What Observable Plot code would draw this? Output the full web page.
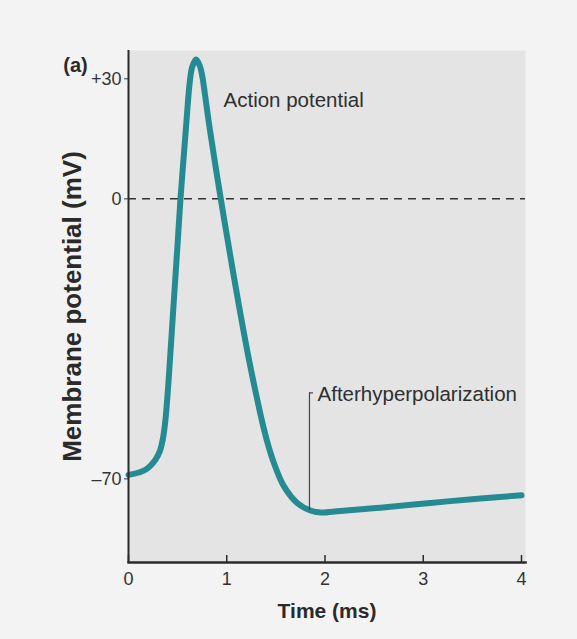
<!DOCTYPE html>
<html>
<head>
<meta charset="utf-8">
<script src="https://cdn.jsdelivr.net/npm/d3@7"></script>
<script src="https://cdn.jsdelivr.net/npm/@observablehq/plot@0.6"></script>
<style>
  html, body { margin: 0; padding: 0; background: #f3f3f3; }
  #chart svg { display: block; }
</style>
</head>
<body>
<div id="chart"></div>
<script>
// Data (time in ms, membrane potential in mV)
const time = [0, 0.173, 0.274, 0.320, 0.350, 0.375, 0.405, 0.436, 0.468, 0.499, 0.529,
  0.579, 0.606, 0.625, 0.649, 0.688, 0.726, 0.752, 0.776, 0.827, 0.939,
  1.007, 1.112, 1.215, 1.322, 1.375, 1.427, 1.478, 1.581, 1.717, 1.852, 1.954,
  2.158, 2.565, 3.074, 3.583, 4.0];
const potential = [-69.0, -67.7, -65.2, -63.0, -60.0, -55.5, -46.5, -35.0, -23.0, -11.5, 0,
  15.9, 24.5, 29.5, 33.0, 34.8, 33.2, 30.5, 26.5, 17.5, 0,
  -10.0, -25.0, -38.8, -51.5, -57.2, -62.0, -65.9, -71.8, -76.0, -77.9, -78.4,
  -78.0, -77.2, -76.0, -74.9, -74.1];

const xTicks = [0, 1, 2, 3, 4];
const yTicks = [-70, 0, 30];
const yTickLabels = ["\u201370", "0", "+30"];

const labels = ["Action potential", "Afterhyperpolarization"];
const labelTime = [0.967, 1.924];
const labelPotential = [24.6, -48.8];

const leaderTime = 1.842;
const leaderTop = -48.5;
const leaderBottom = -77.9;
const hookEnd = 1.883;

const curve = time.map((t, i) => ({t, v: potential[i]}));
const notes = labels.map((label, i) => ({label, t: labelTime[i], v: labelPotential[i]}));

const ink = "#2b2b2b";
const font = "'Liberation Sans', Arial, Helvetica, sans-serif";

const chart = Plot.plot({
  width: 577,
  height: 639,
  marginLeft: 128,
  marginRight: 52,
  marginTop: 50,
  marginBottom: 77,
  style: {background: "transparent", fontFamily: font, fontSize: "18px", color: "#333"},
  x: {type: "linear", domain: [0, 4], range: [128, 521]},
  y: {type: "linear", domain: [-70, 30], range: [478.4, 78.3]},
  marks: [
    Plot.frame({fill: "#e4e4e4", stroke: null}),
    Plot.ruleY([0], {stroke: "#333", strokeWidth: 1.5, strokeDasharray: "8,6"}),
    Plot.line(curve, {x: "t", y: "v", stroke: "#258b93", strokeWidth: 6, curve: "catmull-rom", strokeLinecap: "round"}),
    Plot.ruleX([leaderTime], {y1: leaderTop, y2: leaderBottom, stroke: "#444", strokeWidth: 1.2}),
    Plot.ruleY([leaderTop], {x1: leaderTime, x2: hookEnd, stroke: "#444", strokeWidth: 1.2}),
    Plot.text(notes, {x: "t", y: "v", text: "label", textAnchor: "start", lineAnchor: "middle", fontSize: 20.5, fill: "#2f2f2f"}),
    Plot.ruleX([0], {stroke: ink, strokeWidth: 2}),
    Plot.frame({anchor: "bottom", stroke: ink, strokeWidth: 2.5}),
    Plot.tickX(xTicks, {x: d => d, insetTop: 505, stroke: ink, strokeWidth: 1.5}),
    Plot.axisX({ticks: xTicks, tickSize: 0, tickPadding: 10, tickFormat: d => String(d), label: null}),
    Plot.axisY({ticks: yTicks, tickSize: 4, tickPadding: 3, tickFormat: d => yTickLabels[yTicks.indexOf(d)], label: null}),
    Plot.text(["Membrane potential (mV)"], {frameAnchor: "left", dx: -56, rotate: -90, fontSize: 26, fontWeight: "bold", fill: "#2a2a2a", textAnchor: "middle", lineAnchor: "middle"}),
    Plot.text(["Time (ms)"], {frameAnchor: "bottom", dy: 49, fontSize: 21, fontWeight: "bold", fill: "#2a2a2a", textAnchor: "middle", lineAnchor: "middle"}),
    Plot.text(["(a)"], {frameAnchor: "top-left", dx: -53, dy: 15, fontSize: 20, fontWeight: "bold", fill: "#2a2a2a", textAnchor: "middle", lineAnchor: "middle"})
  ]
});
document.getElementById("chart").appendChild(chart);
</script>
</body>
</html>
